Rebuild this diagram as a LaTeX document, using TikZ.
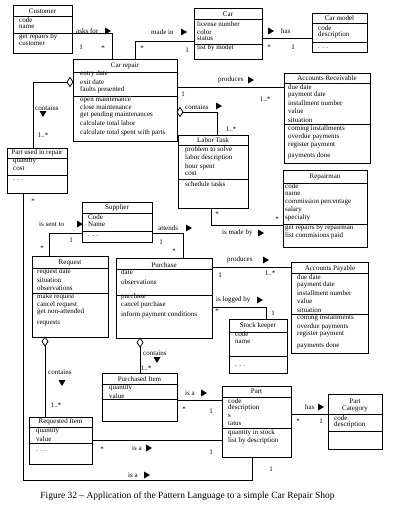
\documentclass[tikz,border=0pt]{standalone}
\usepackage{fontspec}
\setmainfont{Liberation Serif}
\usetikzlibrary{shapes.geometric}
\tikzset{
  cls/.style={draw, line width=0.8pt, inner sep=0, outer sep=0, anchor=north west},
  txt/.style={inner sep=0, font=\fontsize{7}{8}\selectfont, anchor=west},
  ttl/.style={inner sep=0, font=\fontsize{7}{8}\selectfont, anchor=center},
  lbl/.style={inner sep=0, font=\fontsize{7}{8}\selectfont, anchor=west},
  mul/.style={inner sep=0, font=\fontsize{7}{8}\selectfont},
  conn/.style={line width=0.7pt},
  agg/.style={diamond, draw, fill=white, line width=0.7pt, inner sep=0, outer sep=0, minimum width=6pt, minimum height=9pt},
}
\newcommand\umlcls[7]{%
  \pgfmathsetmacro\clw{#4-#2}\pgfmathsetmacro\clh{#5-#3}%
  \node[cls, minimum width=\clw pt, minimum height=\clh pt] (#1) at (#2,#3) {};
  \draw[line width=0.8pt] (#2,#6) -- (#4,#6);
  \draw[line width=0.8pt] (#2,#7) -- (#4,#7);
}
\newcommand\attlist[3]{%
  \foreach \yy/\ttxt [count=\ii] in {#3} {\node[txt] (#1-\ii) at (#2,\yy) {\ttxt};}
}
\newcommand\rtri[2]{\fill (#1-3,#2-3.5) -- (#1+3,#2) -- (#1-3,#2+3.5) -- cycle;}
\newcommand\dtri[2]{\fill (#1-3.5,#2-3) -- (#1+3.5,#2-3) -- (#1,#2+3) -- cycle;}
\begin{document}
\begin{tikzpicture}[x=1pt,y=-1pt]
\useasboundingbox (0,0) rectangle (400,511);
\fill[white] (0,0) rectangle (400,511);

% ---------- classes ----------
\umlcls{cust}{13}{5}{72}{53}{16}{33}
\node[ttl] (cust-t) at (42.5,11) {Customer};
\attlist{cust}{19}{20/code, 27/name, 37/get repairs by, 44/customer}

\umlcls{car}{194}{8}{262}{59}{19}{44}
\node[ttl] (car-t) at (228,14) {Car};
\attlist{car}{197}{24/license number, 32/color, 39/status, 48/list by model}

\umlcls{carmodel}{312}{13}{367}{52}{23}{42}
\node[ttl] (carmodel-t) at (339.5,18) {Car model};
\attlist{carmodel}{318}{28/code, 35/description, 48/. . .}

\umlcls{cr}{73}{59}{177}{141}{72}{96}
\node[ttl] (cr-t) at (125,65.5) {Car repair};
\attlist{cr}{80}{74/entry date, 82/exit date, 90/faults presented, 100/open maintenance, 107/close maintenance, 115/get pending maintenances, 123/calculate total labor, 133/calculate total spent with parts}

\umlcls{ar}{284}{73}{370}{163}{83}{124}
\node[ttl] (ar-t) at (327,78) {Accounts Receivable};
\attlist{ar}{288}{87/due date, 94.5/payment date, 103/installment number, 111/value, 120/situation, 129/coming installments, 137/overdue payments, 145/register payment, 156/payments done}

\umlcls{lt}{178}{135}{248}{208}{145}{179}
\node[ttl] (lt-t) at (213,140) {Labor Task};
\attlist{lt}{185}{150/problem to solve, 158/labor description, 167/hour spent, 174/cost, 184/schedule tasks}

\umlcls{rep}{283}{170}{367}{247}{183}{224}
\node[ttl] (rep-t) at (325,177) {Repairman};
\attlist{rep}{285}{186/code, 194/name, 202/commission percentage, 210/salary, 218/specialty, 228/get repairs by repairman, 236/list commisions paid}

\umlcls{pur}{7}{148}{67}{193}{158}{175}
\node[ttl] (pur-t) at (37,153) {Part used in repair};
\attlist{pur}{13}{161/quantity, 169/cost, 180/. . .}

\umlcls{sup}{82}{202}{152}{242}{213}{231}
\node[ttl] (sup-t) at (117,208) {Supplier};
\attlist{sup}{88}{217/Code, 224/Name, 236/. . .}

\umlcls{req}{32}{256}{108}{337}{268}{293}
\node[ttl] (req-t) at (70,263) {Request};
\attlist{req}{37}{272/request date, 280/situation, 288/observations, 297/make request, 305/cancel request, 312/get non-attended, 323/requests}

\umlcls{purch}{116}{258}{212}{338}{269}{295}
\node[ttl] (purch-t) at (164,265) {Purchase};
\attlist{purch}{121}{272/date, 282/observations, 297/purchase, 305/cancel purchase, 315/inform payment conditions}

\umlcls{ap}{291}{262}{368}{353}{273}{314}
\node[ttl] (ap-t) at (330,268.5) {Accounts Payable};
\attlist{ap}{297}{277/due date, 285/payment date, 293/installment number, 301/value, 310/situation, 318/coming installments, 327/overdue payments, 334/register payment, 346/payments done}

\umlcls{sk}{229}{319}{287}{373}{332}{356}
\node[ttl] (sk-t) at (258,326) {Stock keeper};
\attlist{sk}{235}{334/code, 342/name, 366/. . .}

\umlcls{pi}{102}{373}{177}{421}{384}{399}
\node[ttl] (pi-t) at (139.5,379) {Purchased Item};
\attlist{pi}{109}{388/quantity, 396/value}

\umlcls{part}{222}{386}{291}{457}{397}{428}
\node[ttl] (part-t) at (256.5,391.5) {Part};
\attlist{part}{228}{401/code, 408/description, 416/s, 424/tatus, 433/quantity in stock, 441/list by description}

\umlcls{ri}{29}{417}{92}{464}{427}{443}
\node[ttl] (ri-t) at (60.5,422) {Requested Item};
\attlist{ri}{36}{431/quantity, 439/value, 451/. . .}

\umlcls{pc}{328}{394}{382}{449}{414}{431}
\node[ttl] (pc-t1) at (355,401) {Part};
\node[ttl] (pc-t2) at (355,409) {Category};
\attlist{pc}{334}{418/code, 425/description}

% ---------- connectors ----------
% Customer - Car repair
\draw[conn] (cust.east |- 0,33) -| (112,0 |- cr.north);
\node[lbl] (l-asks) at (76,31) {asks for}; \rtri{108}{31}
\node[mul] (m1a) at (81,47) {1}; \node[mul] (m1b) at (103,48) {*};

% Car repair - Car
\draw[conn] (135,0 |- cr.north) |- (car.west |- 0,41);
\node[lbl] (l-made) at (151,32) {made in}; \rtri{184}{32}
\node[mul] (m2a) at (142,48) {*}; \node[mul] (m2b) at (187,50) {1};

% Car - Car model
\draw[conn] (car.east |- 0,38) -- (carmodel.west |- 0,38);
\rtri{271}{31}\node[lbl] (l-has1) at (281,31) {has};
\node[mul] (m3a) at (269,47) {*}; \node[mul] (m3b) at (293,47) {1};

% Car repair - Accounts Receivable
\draw[conn] (cr.east |- 0,87) -- (ar.west |- 0,87);
\node[lbl] (l-prod1) at (218,80) {produces}; \rtri{251}{80}
\node[mul] (m4a) at (183,94) {1}; \node[mul] (m4b) at (265,99) {1..*};

% Car repair - Labor Task
\node[agg] (d1) at (180,112) {};
\draw[conn] (d1.east) -| (217,0 |- lt.north);
\node[lbl] (l-cont1) at (185,107) {contains}; \rtri{219}{106}
\node[mul] (m5) at (231,129) {1..*};

% Car repair - Part used in repair
\node[agg] (d2) at (70,82) {};
\draw[conn] (d2.west) -| (33,0 |- pur.north);
\node[lbl] (l-cont2) at (35,108) {contains}; \dtri{43}{114}
\node[mul] (m6) at (43,135) {1..*};

% Labor Task - Repairman
\draw[conn] (211,0 |- lt.south) |- (rep.west |- 0,225);
\node[lbl] (l-made2) at (222,233) {is made by}; \rtri{261}{233}
\node[mul] (m7a) at (217,214) {*}; \node[mul] (m7b) at (277,219) {*};

% Part used in repair - Part
\draw[conn] (23,0 |- pur.south) -- (23,480) -| (252,0 |- part.south);
\node[lbl] (l-isa1) at (128,475) {is a}; \rtri{147}{475}
\node[mul] (m8a) at (33,201) {*}; \node[mul] (m8b) at (271,469) {1};

% Supplier - Request
\draw[conn] (sup.west |- 0,233) -| (49,0 |- req.north);
\node[lbl] (l-sent) at (39,224) {is sent to}; \rtri{80}{224}
\node[mul] (m9a) at (71,240) {1}; \node[mul] (m9b) at (42,248) {*};

% Supplier - Purchase
\draw[conn] (sup.east |- 0,233) -| (183,0 |- purch.north);
\node[lbl] (l-att) at (158,228) {attends}; \rtri{189}{228}
\node[mul] (m10a) at (161,242) {1}; \node[mul] (m10b) at (174,251) {*};

% Purchase - Accounts Payable
\draw[conn] (purch.east |- 0,267) -- (ap.west |- 0,267);
\node[lbl] (l-prod2) at (227,260) {produces}; \rtri{266}{260}
\node[mul] (m11a) at (220,275) {1}; \node[mul] (m11b) at (270,273) {1..*};

% Purchase - Stock keeper
\draw[conn] (purch.east |- 0,307) -| (266,0 |- sk.north);
\node[lbl] (l-log) at (216,300) {is logged by}; \rtri{260}{300}
\node[mul] (m12a) at (217,311) {*}; \node[mul] (m12b) at (273,313) {1};

% Purchase - Purchased Item
\node[agg] (d3) at (140,342.5) {};
\draw[conn] (d3.south) -- (140,0 |- pi.north);
\node[lbl] (l-cont3) at (143,353) {contains}; \dtri{157}{360}
\node[mul] (m13) at (146,368) {1..*};

% Purchased Item - Part
\draw[conn] (pi.east |- 0,400) -- (part.west |- 0,400);
\node[lbl] (l-isa2) at (185,393) {is a}; \rtri{204}{393}
\node[mul] (m14a) at (184,409) {*}; \node[mul] (m14b) at (211,411) {1};

% Requested Item - Part
\draw[conn] (ri.east |- 0,440) -- (part.west |- 0,440);
\node[lbl] (l-isa3) at (132,448) {is a}; \rtri{149}{448}
\node[mul] (m15a) at (102,449) {*}; \node[mul] (m15b) at (211,452) {1};

% Request - Requested Item
\node[agg] (d4) at (45,341.5) {};
\draw[conn] (d4.south) -- (45,0 |- ri.north);
\node[lbl] (l-cont4) at (48,372) {contains}; \dtri{62}{383}
\node[mul] (m16) at (56,405) {1..*};

% Part - Part Category
\draw[conn] (part.east |- 0,414) -- (pc.west |- 0,414);
\node[lbl] (l-has2) at (305,407) {has}; \rtri{321}{407}
\node[mul] (m17a) at (298,421) {*}; \node[mul] (m17b) at (321,421) {1};

% caption
\node[inner sep=0, font=\fontsize{9.5}{11}\selectfont] (cap) at (187.5,496) {Figure 32 -- Application of the Pattern Language to a simple Car Repair Shop};
\end{tikzpicture}
\end{document}
